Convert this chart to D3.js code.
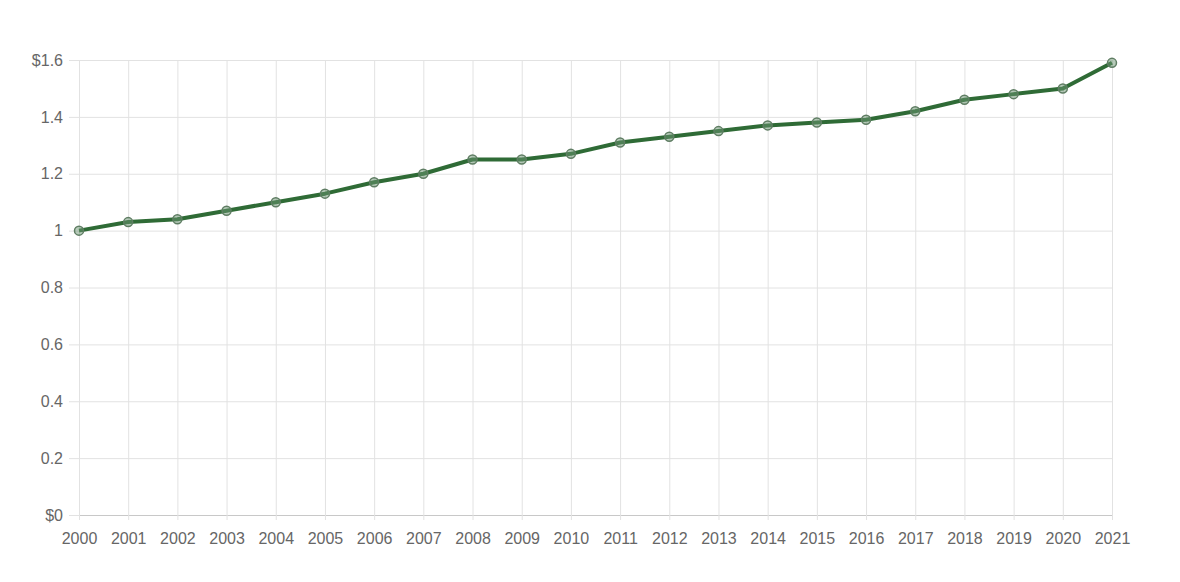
<!DOCTYPE html>
<html>
<head>
<meta charset="utf-8">
<script src="https://cdn.jsdelivr.net/npm/d3@7"></script>
<style>
  body { margin: 0; background: #fff; }
  #chart text { font-family: "Liberation Sans", Arial, sans-serif; }
</style>
</head>
<body>
<div id="chart"></div>
<script>
const years = ['2000', '2001', '2002', '2003', '2004', '2005', '2006', '2007', '2008', '2009', '2010',
  '2011', '2012', '2013', '2014', '2015', '2016', '2017', '2018', '2019', '2020', '2021'];
const prices = [1.00, 1.03, 1.04, 1.07, 1.10, 1.13, 1.17, 1.20, 1.25, 1.25, 1.27,
  1.31, 1.33, 1.35, 1.37, 1.38, 1.39, 1.42, 1.46, 1.48, 1.50, 1.59];
const yTicks = [0, 0.2, 0.4, 0.6, 0.8, 1, 1.2, 1.4, 1.6];

const width = 1180;
const height = 582;
const margin = { top: 60, right: 68, bottom: 67, left: 79 };

const svg = d3.select('#chart')
  .append('svg')
  .attr('width', width)
  .attr('height', height);

const x = d3.scalePoint()
  .domain(years)
  .range([margin.left, width - margin.right]);

const y = d3.scaleLinear()
  .domain([0, 1.6])
  .range([height - margin.bottom, margin.top]);

const fmt = d => (d === 0 || d === 1.6) ? '$' + d : String(d);

// horizontal grid + y labels
svg.append('g')
  .attr('transform', `translate(${margin.left},0)`)
  .call(d3.axisLeft(y).tickValues(yTicks).tickFormat(fmt)
    .tickSize(-(width - margin.left - margin.right)).tickSizeOuter(0).tickPadding(16))
  .call(g => g.select('.domain').attr('stroke', '#c8c8c8'))
  .call(g => g.selectAll('.tick line').attr('stroke', '#e2e2e2').attr('x1', -10))
  .call(g => g.selectAll('.tick text').attr('fill', '#666').attr('font-size', '16px'));

// vertical grid + x labels
svg.append('g')
  .attr('transform', `translate(0,${height - margin.bottom})`)
  .call(d3.axisBottom(x)
    .tickSize(-(height - margin.top - margin.bottom)).tickSizeOuter(0).tickPadding(18))
  .call(g => g.select('.domain').attr('stroke', '#c8c8c8'))
  .call(g => g.selectAll('.tick line').attr('stroke', '#e2e2e2').attr('y1', 5))
  .call(g => g.selectAll('.tick text').attr('fill', '#666').attr('font-size', '16px'));

const line = d3.line()
  .x((d, i) => x(years[i]))
  .y(d => y(d));

svg.append('path')
  .datum(prices)
  .attr('fill', 'none')
  .attr('stroke', '#2f6b36')
  .attr('stroke-width', 4)
  .attr('stroke-linejoin', 'round')
  .attr('d', line);

svg.append('g')
  .selectAll('circle')
  .data(prices)
  .join('circle')
    .attr('cx', (d, i) => x(years[i]))
    .attr('cy', d => y(d))
    .attr('r', 4.5)
    .attr('fill', 'rgba(110,150,115,0.5)')
    .attr('stroke', '#5f7d63')
    .attr('stroke-width', 1.5);
</script>
</body>
</html>
